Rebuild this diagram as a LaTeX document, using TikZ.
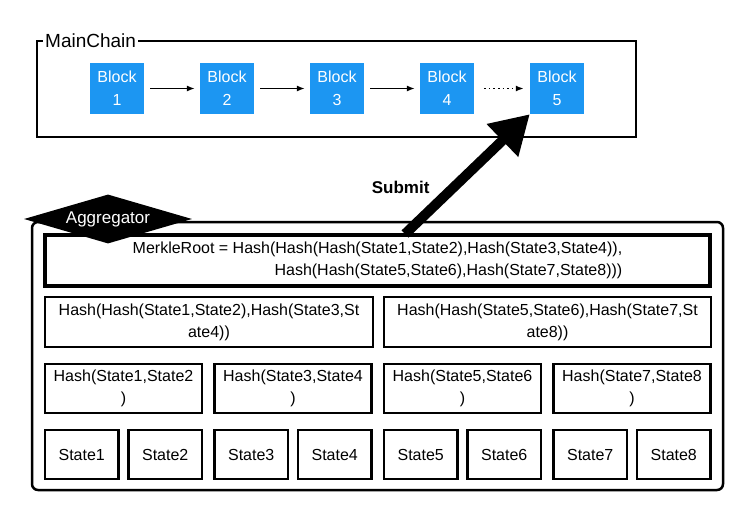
\documentclass[tikz,border=0pt]{standalone}
\usepackage{fontspec}
\setmainfont{Liberation Sans}
\usetikzlibrary{arrows.meta,shapes.geometric}
\definecolor{blockblue}{RGB}{28,150,242}

\begin{document}
\begin{tikzpicture}[x=1pt,y=-1pt,
    font=\fontsize{16}{22}\selectfont,
    block/.style={fill=blockblue, text=white, minimum width=54pt, minimum height=51pt,
        inner sep=0pt, align=center, font=\fontsize{16}{23}\selectfont},
    hashbox/.style={draw, line width=2.4pt, inner sep=0pt, align=center},
    link/.style={-{Latex[length=8pt,width=6pt]}, line width=1.2pt}]
  \useasboundingbox (0,0) rectangle (744,514);

  % main chain
  \draw[line width=2.5pt] (37,41) rectangle (636,137);
  \node[fill=white, inner sep=2pt, anchor=west, font=\fontsize{19}{22}\selectfont] (mainchain) at (43,41) {MainChain};
  \foreach \i in {1,...,5} {
      \node[block] (b\i) at (7+110*\i, 88.5) {Block\\\i};
  }
  \foreach \i/\j in {1/2, 2/3, 3/4} {
      \draw[link, shorten <=6pt, shorten >=5pt] (b\i) -- (b\j);
  }
  \draw[link, line width=1.6pt, dash pattern=on 1.6pt off 3pt, shorten <=10pt, shorten >=6pt] (b4) -- (b5);

  % aggregator
  \draw[line width=2.5pt, rounded corners=6pt] (32,222) rectangle (723,490);
  \node[hashbox, line width=4pt, minimum width=665pt, minimum height=51pt, align=right] (root) at (377.5,260.5)
      {MerkleRoot = Hash(Hash(Hash(State1,State2),Hash(State3,State4)),\\Hash(Hash(State5,State6),Hash(State7,State8)))};
  \node[hashbox, minimum width=328pt, minimum height=50pt] (h1234) at (209,322)
      {Hash(Hash(State1,State2),Hash(State3,St\\ate4))};
  \node[hashbox, minimum width=327pt, minimum height=50pt] (h5678) at (547.5,322)
      {Hash(Hash(State5,State6),Hash(State7,St\\ate8))};
  \foreach \i/\a/\b in {0/1/2, 1/3/4, 2/5/6, 3/7/8} {
      \node[hashbox, minimum width=157pt, minimum height=49pt] (h\a\b) at (123.5+169.5*\i, 388.5)
          {Hash(State\a,State\b\\)};
  }
  \foreach \i in {1,...,8} {
      \pgfmathsetmacro{\sx}{81.75+169.5*floor((\i-1)/2)+83.5*mod(\i-1,2)}
      \node[hashbox, minimum width=73.5pt, minimum height=49pt] (s\i) at (\sx, 454.5) {State\i};
  }
  \node[diamond, aspect=3.43, fill=black, text=white, font=\fontsize{17}{20}\selectfont,
      minimum width=168pt, minimum height=49pt, inner sep=0pt] (agg) at (108,219) {Aggregator};

  % submit
  \coordinate (src) at (405,234);
  \draw[line width=10pt, -{Triangle[length=38pt,width=43pt]}] (src) -- (b5.south west);
  \node[font=\bfseries\fontsize{17}{20}\selectfont, anchor=east] (submit) at (433,187) {Submit};
\end{tikzpicture}
\end{document}
